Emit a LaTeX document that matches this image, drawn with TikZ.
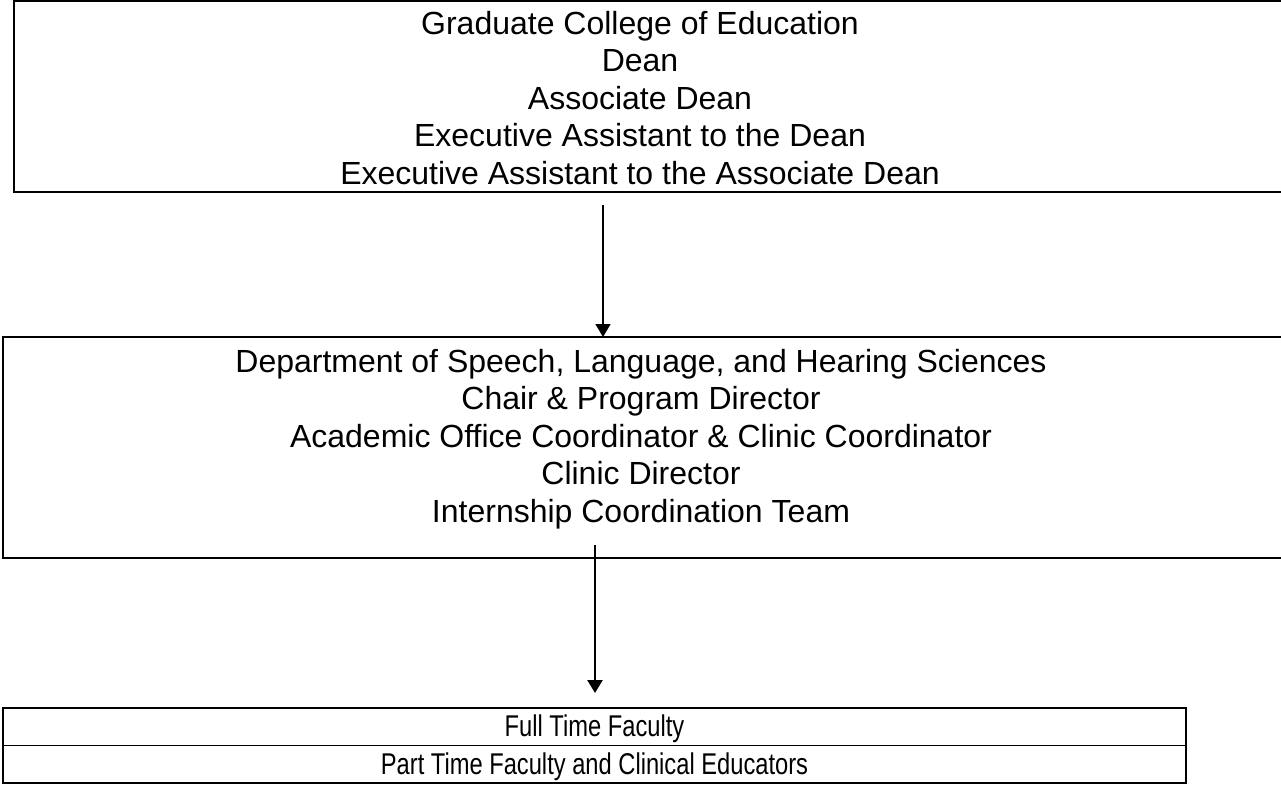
\documentclass[tikz,border=0pt]{standalone}
\usepackage{fontspec}
\setmainfont{Liberation Sans}
\usetikzlibrary{arrows.meta}
\begin{document}
\begin{tikzpicture}[x=1pt,y=-1pt,
  frame/.style={draw=black, line width=1.1pt, inner sep=0pt, outer sep=0pt},
  cell/.style={draw=black, line width=1.9pt, inner sep=0pt, outer sep=0pt,
    minimum width=1183pt, minimum height=37.5pt, anchor=north west},
  lines/.style={align=center, inner sep=0pt, font=\fontsize{32}{37.5}\selectfont},
  celltext/.style={inner sep=0pt, yshift=-2pt, font=\fontsize{30}{34}\selectfont},
  link/.style={-{Triangle[length=13pt,width=15pt]}}
]
\useasboundingbox (0,0) rectangle (1281,784);
\clip (0,0) rectangle (1281,784);

% Graduate College (right side runs off the page)
\node[frame, minimum width=1300pt, minimum height=191pt, anchor=north west] (college) at (14,1) {};
\node[lines] (collegetext) at (640,98) {Graduate College of Education\\Dean\\Associate Dean\\Executive Assistant to the Dean\\Executive Assistant to the Associate Dean};

% Department
\node[frame, minimum width=1300pt, minimum height=221pt, anchor=north west] (dept) at (3,337) {};
\node[lines] (depttext) at (641,439) {Department of Speech, Language, and Hearing Sciences\\Chair \& Program Director\\Academic Office Coordinator \& Clinic Coordinator\\Clinic Director\\Internship Coordination Team};

% Faculty table
\node[cell] (full) at (3,708) {};
\node[cell] (part) at (3,745.5) {};
\node[celltext] (fulltext) at (full.center) {\scalebox{0.79}[1]{Full Time Faculty}};
\node[celltext] (parttext) at (part.center) {\scalebox{0.79}[1]{Part Time Faculty and Clinical Educators}};

% Connectors
\coordinate (a1) at (603,205);
\draw[link, line width=1.7pt] (a1) -- (a1 |- dept.north);
\coordinate (a2) at (595,545);
\draw[link, line width=2.4pt, shorten >=15pt] (a2) -- (a2 |- full.north);
\end{tikzpicture}
\end{document}
